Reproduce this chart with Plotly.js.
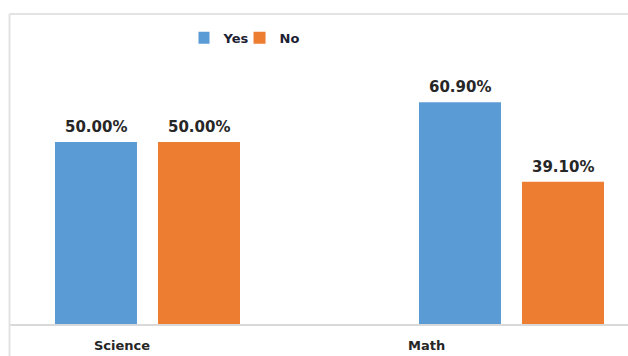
<!DOCTYPE html>
<html>
<head>
<meta charset="utf-8">
<script src="https://cdn.plot.ly/plotly-3.0.1.min.js"></script>
<style>html,body{margin:0;padding:0;background:#fff;}#chart{width:628px;height:356px;}</style>
</head>
<body>
<div id="chart"></div>
<script>
// Data
var categories = ["Science", "Math"];
var yesValues = [50.00, 60.90];
var noValues = [50.00, 39.10];
var seriesNames = ["Yes", "No"];
// Label horizontal offsets (px) as seen in the reference
var labelShift = [-25, -85];
// Offset of each series bar centre within a group (category units)
var seriesOffset = [-0.1415, 0.1415];

var traces = [
  {
    type: "bar", name: seriesNames[0], x: categories, y: yesValues,
    marker: {color: "#5b9bd5"}, hoverinfo: "none"
  },
  {
    type: "bar", name: seriesNames[1], x: categories, y: noValues,
    marker: {color: "#ed7d31"}, hoverinfo: "none"
  }
];

var annotations = [];
categories.forEach(function (c, i) {
  annotations.push({
    x: c, xref: "x", y: -0.069, yref: "paper", xshift: labelShift[i],
    text: c, showarrow: false, xanchor: "center", yanchor: "middle",
    font: {family: "DejaVu Sans", size: 13, color: "#262626", weight: "bold"}
  });
});
[yesValues, noValues].forEach(function (vals, s) {
  vals.forEach(function (v, i) {
    annotations.push({
      x: i + seriesOffset[s], xref: "x", y: v, yref: "y", yshift: 15,
      text: v.toFixed(2) + "%", showarrow: false, xanchor: "center", yanchor: "middle",
      font: {family: "DejaVu Sans", size: 15, color: "#262626", weight: "bold"}
    });
  });
});

var layout = {
  width: 628, height: 356,
  margin: {l: 10, r: 0, t: 14, b: 32, pad: 0},
  paper_bgcolor: "#ffffff", plot_bgcolor: "#ffffff",
  barmode: "group", bargap: 0.434, bargroupgap: 0.204,
  showlegend: true,
  legend: {
    orientation: "h", x: 0.305, xanchor: "left", y: 0.923, yanchor: "middle",
    font: {family: "DejaVu Sans", size: 13, color: "#1c2033", weight: "bold"},
    bgcolor: "rgba(0,0,0,0)", itemwidth: 30, traceorder: "normal",
    indentation: -15
  },
  xaxis: {
    type: "category", range: [-0.3777, 1.3201], fixedrange: true,
    showticklabels: false, ticks: "", showgrid: false, zeroline: false,
    showline: true, linecolor: "#d9d9d9", linewidth: 2
  },
  yaxis: {
    range: [0, 85.16], fixedrange: true, visible: false,
    showgrid: false, zeroline: false
  },
  shapes: [
    {type: "line", xref: "paper", yref: "paper", x0: -0.0008, x1: -0.0008, y0: 1.0, y1: -0.2,
     line: {color: "#e3e3e3", width: 2}},
    {type: "line", xref: "paper", yref: "paper", x0: -0.0008, x1: 1.0, y0: 1.0, y1: 1.0,
     line: {color: "#e3e3e3", width: 2}}
  ],
  annotations: annotations
};

Plotly.newPlot("chart", traces, layout, {staticPlot: true, displayModeBar: false});
</script>
</body>
</html>
